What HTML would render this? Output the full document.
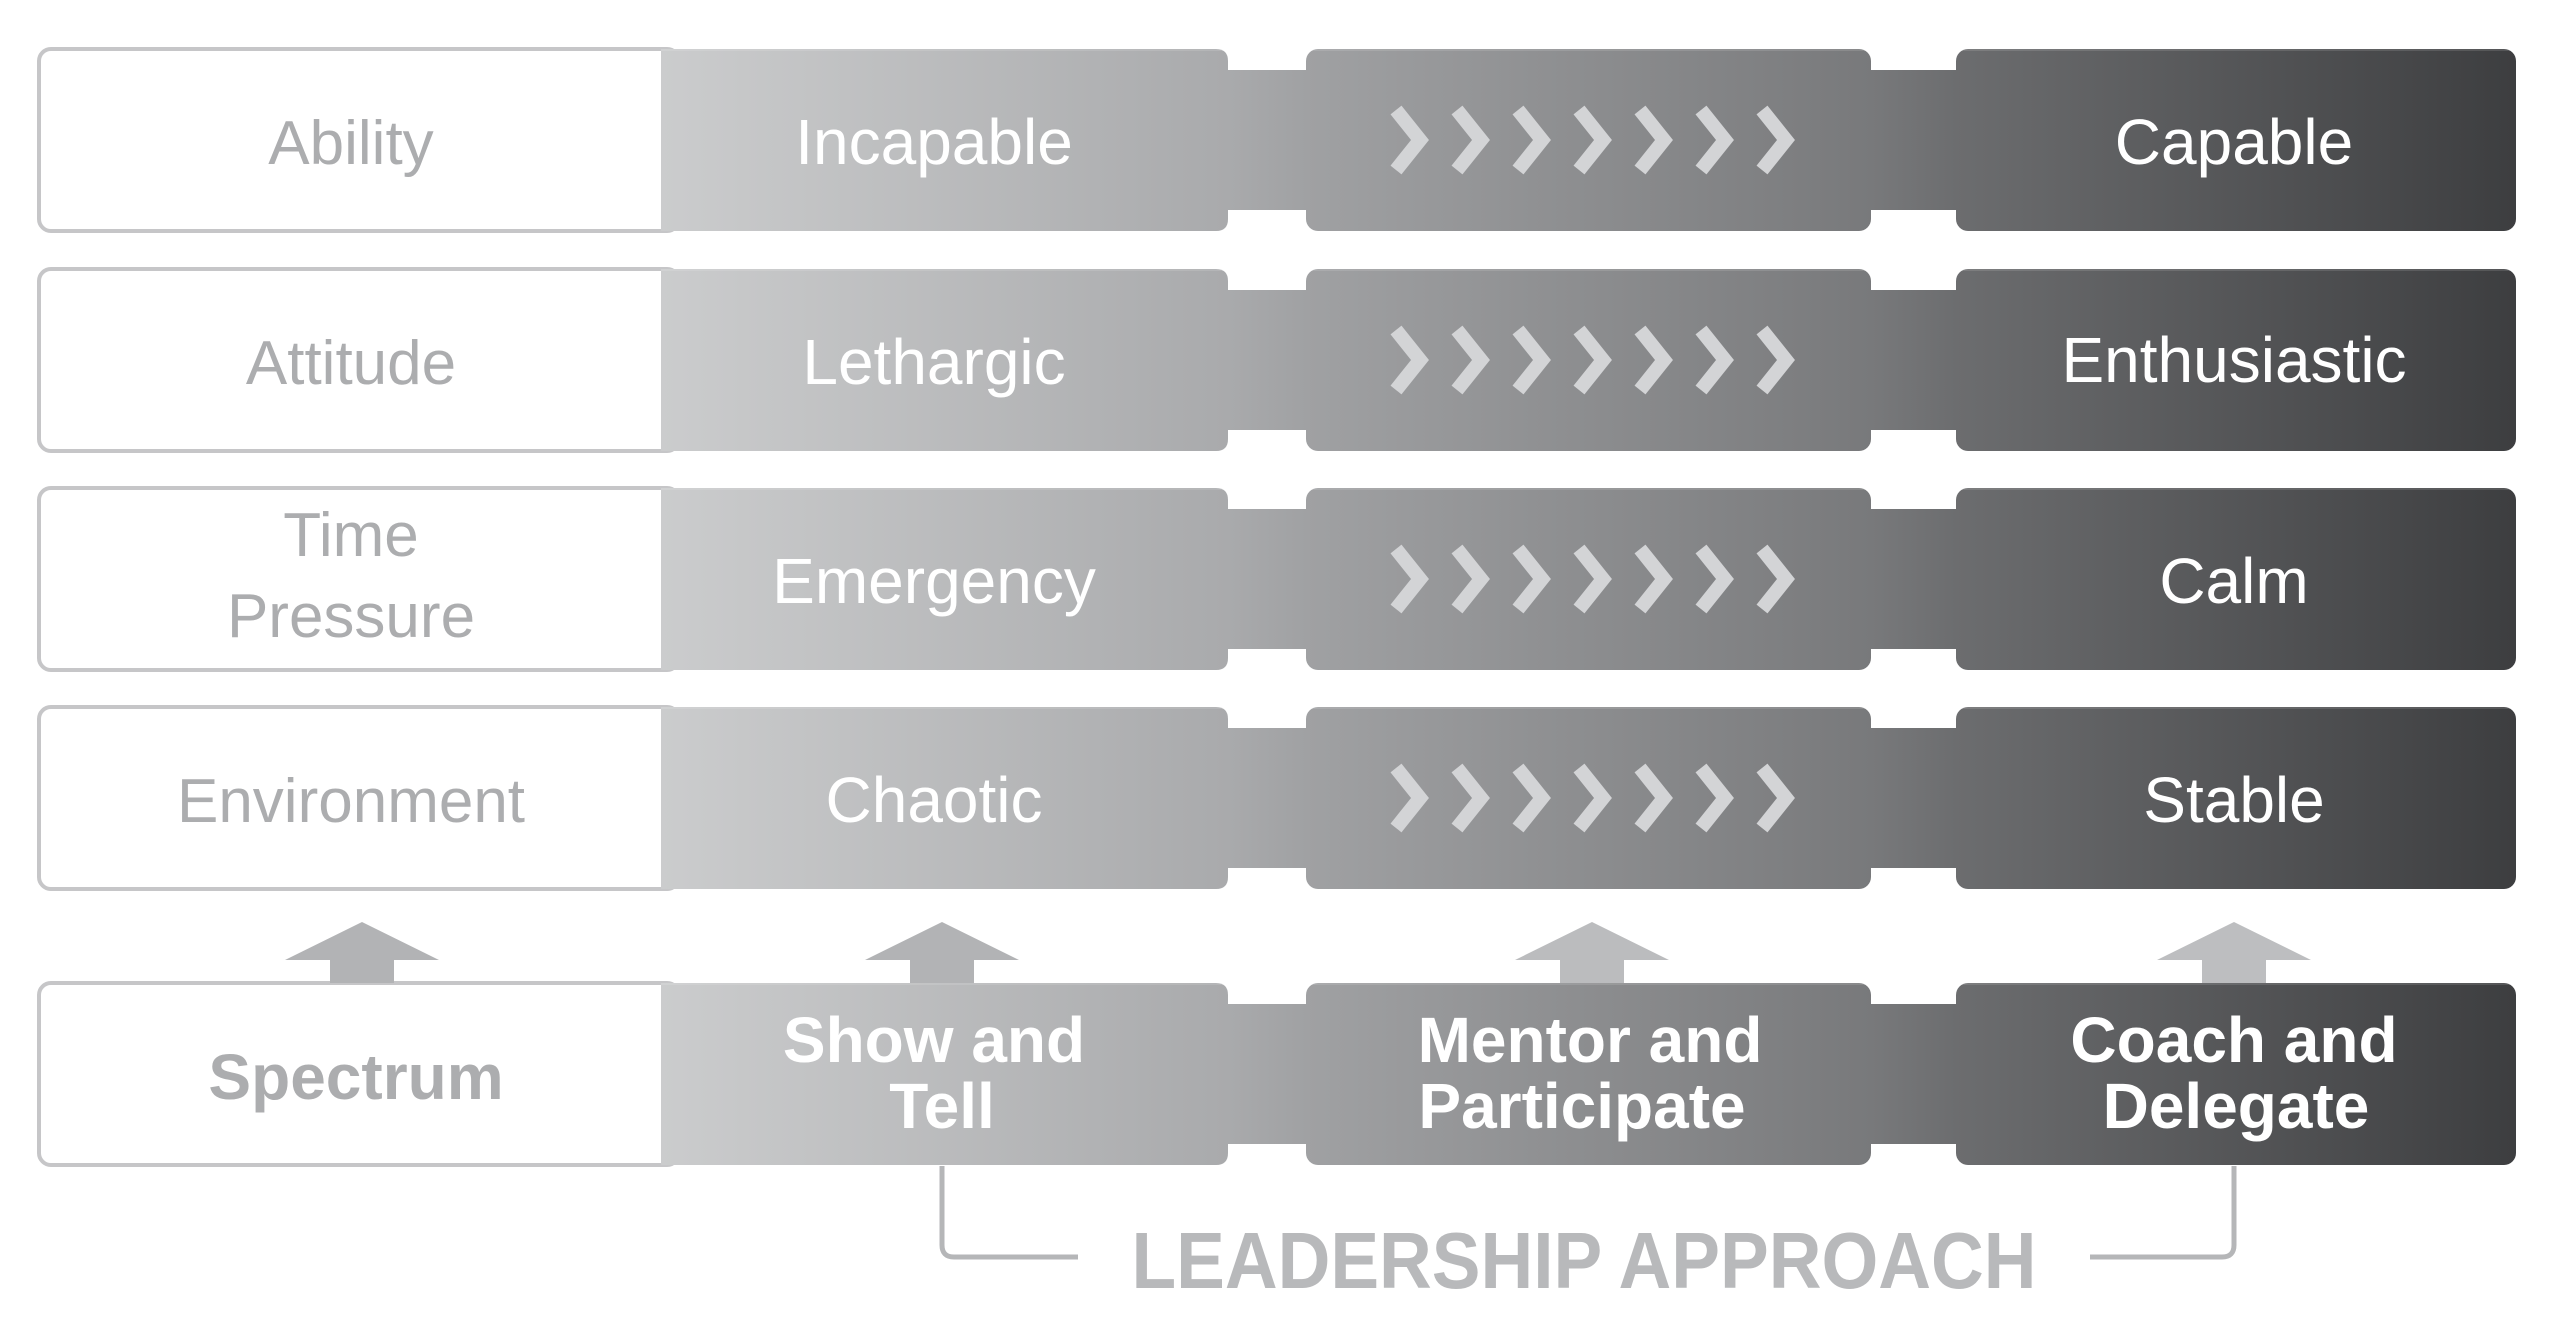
<!DOCTYPE html>
<html><head><meta charset="utf-8"><style>
html,body{margin:0;padding:0;background:#fff;}
svg{display:block;}
text{font-family:"Liberation Sans",Arial,sans-serif;}
</style></head><body>
<svg width="2560" height="1326" viewBox="0 0 2560 1326" xmlns="http://www.w3.org/2000/svg">
<defs>
<linearGradient id="g" gradientUnits="userSpaceOnUse" x1="661" y1="0" x2="2516" y2="0">
<stop offset="0" stop-color="#cbcccd"/>
<stop offset="0.306" stop-color="#a9aaac"/>
<stop offset="0.348" stop-color="#a0a1a3"/>
<stop offset="0.653" stop-color="#78797b"/>
<stop offset="0.698" stop-color="#6c6d6f"/>
<stop offset="1" stop-color="#3d3e40"/>
</linearGradient>
<g id="bar">
<rect x="39" y="0" width="640" height="182" rx="12" fill="#fff" stroke="#c6c6c8" stroke-width="4"/>
<rect x="1200" y="21" width="130" height="140" fill="url(#g)"/>
<rect x="1850" y="21" width="130" height="140" fill="url(#g)"/>
<path d="M661 0 H1216 Q1228 0 1228 12 V170 Q1228 182 1216 182 H661 Z" fill="url(#g)"/>
<rect x="1306" y="0" width="565" height="182" rx="12" fill="url(#g)"/>
<rect x="1956" y="0" width="560" height="182" rx="12" fill="url(#g)"/>
<line x1="661" y1="1" x2="2516" y2="1" stroke="#fff" stroke-opacity="0.12" stroke-width="2"/>
</g>
<g id="chev" fill="none" stroke="#d3d4d6" stroke-width="14" stroke-linejoin="miter">
<polyline points="1396,-30 1420,0 1396,30"/>
<polyline points="1457,-30 1481,0 1457,30"/>
<polyline points="1518,-30 1542,0 1518,30"/>
<polyline points="1579,-30 1603,0 1579,30"/>
<polyline points="1640,-30 1664,0 1640,30"/>
<polyline points="1701,-30 1725,0 1701,30"/>
<polyline points="1762,-30 1786,0 1762,30"/>
</g>
</defs>

<use href="#bar" y="49"/>
<use href="#bar" y="269"/>
<use href="#bar" y="488"/>
<use href="#bar" y="707"/>
<use href="#bar" y="983"/>

<use href="#chev" y="140"/>
<use href="#chev" y="360"/>
<use href="#chev" y="579"/>
<use href="#chev" y="798"/>

<!-- up arrows -->
<g fill="#b2b3b5">
<polygon points="362,922 439,960 394,960 394,983 330,983 330,960 285,960"/>
<polygon points="942,922 1019,960 974,960 974,983 910,983 910,960 865,960"/>
<polygon points="1592,922 1669,960 1624,960 1624,983 1560,983 1560,960 1515,960" fill="#bbbcbe"/>
<polygon points="2234,922 2311,960 2266,960 2266,983 2202,983 2202,960 2157,960" fill="#bdbec0"/>
</g>

<!-- left labels -->
<g fill="#acadaf" font-size="62" text-anchor="middle">
<text x="351" y="164">Ability</text>
<text x="351" y="384">Attitude</text>
<text x="351" y="556">Time</text>
<text x="351" y="637">Pressure</text>
<text x="351" y="822">Environment</text>
<text x="356" y="1099" font-weight="bold" font-size="64">Spectrum</text>
</g>

<!-- segment labels -->
<g fill="#fff" font-size="64" text-anchor="middle">
<text x="934" y="164">Incapable</text>
<text x="2234" y="164">Capable</text>
<text x="934" y="384">Lethargic</text>
<text x="2234" y="382">Enthusiastic</text>
<text x="934" y="603">Emergency</text>
<text x="2234" y="603">Calm</text>
<text x="934" y="822">Chaotic</text>
<text x="2234" y="822">Stable</text>
</g>
<g fill="#fff" font-size="64" font-weight="bold" text-anchor="middle">
<text x="934" y="1062">Show and</text>
<text x="942" y="1128">Tell</text>
<text x="1590" y="1062">Mentor and</text>
<text x="1582" y="1128">Participate</text>
<text x="2234" y="1062">Coach and</text>
<text x="2236" y="1128">Delegate</text>
</g>

<!-- bracket -->
<g fill="none" stroke="#b5b6b8" stroke-width="5">
<path d="M942 1166 V1245 Q942 1257 954 1257 H1078"/>
<path d="M2234 1166 V1245 Q2234 1257 2222 1257 H2090"/>
</g>
<text x="1584" y="1288" fill="#b8b9bb" font-size="80" font-weight="bold" text-anchor="middle" textLength="905" lengthAdjust="spacingAndGlyphs">LEADERSHIP APPROACH</text>
</svg>
</body></html>
